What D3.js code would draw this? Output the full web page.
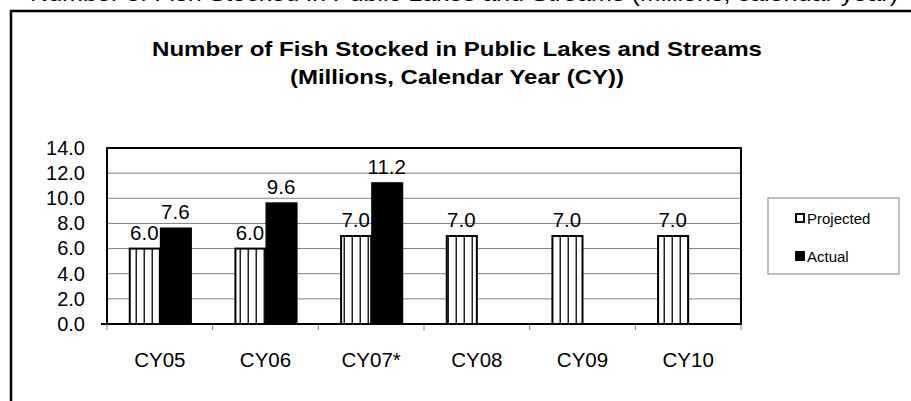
<!DOCTYPE html>
<html>
<head>
<meta charset="utf-8">
<script src="https://cdn.jsdelivr.net/npm/d3@7"></script>
<style>
  html, body { margin: 0; padding: 0; background: #fff; }
  svg { display: block; }
  text { font-family: "Liberation Sans", Arial, sans-serif; }
</style>
</head>
<body>
<div id="chart"></div>
<script>
const categories = ["CY05", "CY06", "CY07*", "CY08", "CY09", "CY10"];
const projected = [6.0, 6.0, 7.0, 7.0, 7.0, 7.0];
const actual = [7.6, 9.6, 11.2, null, null, null];
const seriesNames = ["Projected", "Actual"];
const yTicks = [0, 2, 4, 6, 8, 10, 12, 14];
const titleLines = ["Number of Fish Stocked in Public Lakes and Streams", "(Millions, Calendar Year (CY))"];
const cutCaption = "Number of Fish Stocked in Public Lakes and Streams (Millions, calendar year)";

(function () {
const W = 911, H = 401;
const svg = d3.select("#chart").append("svg").attr("width", W).attr("height", H);

const defs = svg.append("defs");
const pat = defs.append("pattern").attr("id", "stripes")
  .attr("patternUnits", "userSpaceOnUse").attr("width", 8).attr("height", 8).attr("x", 129);
pat.append("rect").attr("width", 8).attr("height", 8).attr("fill", "#fff");
pat.append("rect").attr("x", 6.5).attr("width", 2).attr("height", 8).attr("fill", "#222");

svg.append("text").attr("x", 30).attr("y", 0.5)
  .attr("font-size", 22).attr("textLength", 868).attr("lengthAdjust", "spacingAndGlyphs")
  .attr("fill", "#000").text(cutCaption);

svg.append("rect").attr("x", 11).attr("y", 11).attr("width", 940).attr("height", 420)
  .attr("fill", "none").attr("stroke", "#000").attr("stroke-width", 2.5);

svg.append("text").attr("x", 457).attr("y", 56).attr("text-anchor", "middle")
  .attr("font-size", 21).attr("font-weight", "bold")
  .attr("textLength", 610).attr("lengthAdjust", "spacingAndGlyphs").text(titleLines[0]);
svg.append("text").attr("x", 457).attr("y", 84).attr("text-anchor", "middle")
  .attr("font-size", 21).attr("font-weight", "bold")
  .attr("textLength", 334).attr("lengthAdjust", "spacingAndGlyphs").text(titleLines[1]);

const pLeft = 107, pRight = 741, pTop = 148, pBottom = 324;
const x = d3.scaleBand().domain(categories).range([pLeft, pRight]).paddingInner(0).paddingOuter(0);
const xs = d3.scaleBand().domain(seriesNames).range([0, x.bandwidth()]).paddingInner(0).paddingOuter(0.7);
const y = d3.scaleLinear().domain([0, 14]).range([pBottom, pTop]);

svg.append("g").selectAll("line").data(yTicks.slice(1, -1)).join("line")
  .attr("x1", pLeft).attr("x2", pRight).attr("y1", d => y(d)).attr("y2", d => y(d))
  .attr("stroke", "#808080").attr("stroke-width", 1);

const yAxis = d3.axisLeft(y).tickValues(yTicks).tickFormat(d3.format(".1f")).tickSize(0).tickPadding(22);
const gy = svg.append("g").attr("transform", `translate(${pLeft},0)`).call(yAxis);
gy.select(".domain").remove();
gy.selectAll("text").attr("font-size", 20).attr("fill", "#000")
  .attr("font-family", "'Liberation Sans', Arial, sans-serif");

const xAxis = d3.axisBottom(x).tickSize(0).tickPadding(28);
const gx = svg.append("g").attr("transform", `translate(0,${pBottom})`).call(xAxis);
gx.select(".domain").remove();
gx.selectAll("text").attr("font-size", 20.5).attr("fill", "#000")
  .attr("font-family", "'Liberation Sans', Arial, sans-serif");
const bounds = categories.map(c => x(c)).concat([pRight]);
svg.append("g").selectAll("line").data(bounds).join("line")
  .attr("x1", d => d).attr("x2", d => d).attr("y1", pBottom).attr("y2", pBottom + 6)
  .attr("stroke", "#808080").attr("stroke-width", 1);

const rows = [];
categories.forEach((c, i) => {
  rows.push({ c, s: "Projected", v: projected[i] });
  if (actual[i] != null) rows.push({ c, s: "Actual", v: actual[i] });
});
svg.append("g").selectAll("rect").data(rows).join("rect")
  .attr("x", d => x(d.c) + xs(d.s) + 1)
  .attr("y", d => y(d.v))
  .attr("width", xs.bandwidth() - 1)
  .attr("height", d => pBottom - y(d.v))
  .attr("fill", d => d.s === "Projected" ? "url(#stripes)" : "#000")
  .attr("stroke", "#000").attr("stroke-width", 2);

svg.append("g").selectAll("text").data(rows).join("text")
  .attr("x", d => x(d.c) + xs(d.s) + xs.bandwidth() / 2)
  .attr("y", d => y(d.v) - 9)
  .attr("text-anchor", "middle").attr("font-size", 20.5).attr("fill", "#000")
  .text(d => d3.format(".1f")(d.v));

svg.append("rect").attr("x", pLeft).attr("y", pTop).attr("width", pRight - pLeft).attr("height", pBottom - pTop)
  .attr("fill", "none").attr("stroke", "#000").attr("stroke-width", 2);
svg.append("line").attr("x1", pLeft - 6).attr("x2", pRight).attr("y1", pBottom).attr("y2", pBottom)
  .attr("stroke", "#000").attr("stroke-width", 2);

svg.append("rect").attr("x", 768).attr("y", 198).attr("width", 131).attr("height", 76)
  .attr("fill", "#fff").attr("stroke", "#808080").attr("stroke-width", 1);
const leg = svg.append("g").selectAll("g").data(seriesNames).join("g")
  .attr("transform", (d, i) => `translate(796,${218 + i * 38})`);
leg.append("rect").attr("x", 0).attr("y", -4).attr("width", 8).attr("height", 8)
  .attr("fill", d => d === "Projected" ? "#fff" : "#000")
  .attr("stroke", "#000").attr("stroke-width", 2);
leg.append("text").attr("x", 11).attr("y", 5.5).attr("font-size", 15).attr("fill", "#000").text(d => d);
})();
</script>
</body>
</html>
